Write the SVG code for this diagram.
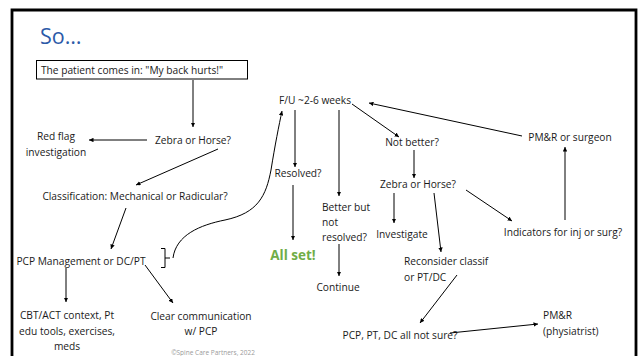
<svg xmlns="http://www.w3.org/2000/svg" width="642" height="356" viewBox="0 0 642 356">
  <defs>
    <marker id="ah" viewBox="0 0 6 6" refX="6" refY="3" markerWidth="4.5" markerHeight="4.5" orient="auto" markerUnits="userSpaceOnUse">
      <path d="M0,0 L6,3 L0,6 z" fill="#000"/>
    </marker>
    <style>
      .t{font-family:"Open Sans","Liberation Sans",sans-serif;font-size:10.2px;fill:#1a1a1a}
      .c{text-anchor:middle}
      .ln{stroke:#000;stroke-width:1;fill:none}
      .a{marker-end:url(#ah)}
    </style>
  </defs>

  <rect width="642" height="356" fill="#fff"/>
  <!-- slide frame -->
  <path d="M12,358 V10 H636 V358" fill="none" stroke="#000" stroke-width="2.8"/>

  <text x="40" y="44" font-family="Open Sans, Liberation Sans, sans-serif" font-size="21.5" fill="#2C5AA8">So…</text>

  <!-- nodes -->
  <g id="start">
    <rect x="36.5" y="60.5" width="211" height="18.5" fill="#fff" stroke="#000" stroke-width="1"/>
    <text class="t" x="41" y="73.5">The patient comes in: "My back hurts!"</text>
  </g>
  <g id="zebra1"><text class="t c" x="193" y="144">Zebra or Horse?</text></g>
  <g id="redflag">
    <text class="t c" x="56" y="139.5">Red flag</text>
    <text class="t c" x="56" y="155.5">investigation</text>
  </g>
  <g id="classification"><text class="t c" x="135" y="199.5">Classification: Mechanical or Radicular?</text></g>
  <g id="pcp"><text class="t c" x="81" y="264.5">PCP Management or DC/PT</text></g>
  <g id="cbt">
    <text class="t c" x="67" y="319">CBT/ACT context, Pt</text>
    <text class="t c" x="67" y="334.5">edu tools, exercises,</text>
    <text class="t c" x="67" y="350">meds</text>
  </g>
  <g id="clear">
    <text class="t c" x="201" y="319.5">Clear communication</text>
    <text class="t c" x="201" y="335">w/ PCP</text>
  </g>
  <g id="followup"><text class="t c" x="315" y="104">F/U ~2-6 weeks</text></g>
  <g id="resolved"><text class="t c" x="298" y="177">Resolved?</text></g>
  <g id="allset"><text x="293" y="260" text-anchor="middle" font-family="Open Sans, Liberation Sans, sans-serif" font-size="13.5" font-weight="bold" fill="#70AD47">All set!</text></g>
  <g id="better">
    <text class="t" x="322" y="210.5">Better but</text>
    <text class="t" x="322" y="226">not</text>
    <text class="t" x="322" y="241">resolved?</text>
  </g>
  <g id="continue"><text class="t c" x="338" y="291">Continue</text></g>
  <g id="notbetter"><text class="t c" x="412" y="146">Not better?</text></g>
  <g id="pmrsurgeon"><text class="t c" x="570" y="141">PM&amp;R or surgeon</text></g>
  <g id="zebra2"><text class="t c" x="418" y="188">Zebra or Horse?</text></g>
  <g id="investigate"><text class="t c" x="402" y="237.5">Investigate</text></g>
  <g id="reconsider">
    <text class="t" x="404" y="264.5">Reconsider classif</text>
    <text class="t" x="404" y="280.5">or PT/DC</text>
  </g>
  <g id="indicators"><text class="t c" x="563" y="235.5">Indicators for inj or surg?</text></g>
  <g id="notsure"><text class="t c" x="400" y="338.5">PCP, PT, DC all not sure?</text></g>
  <g id="pmr">
    <text class="t" x="543" y="319">PM&amp;R</text>
    <text class="t" x="543" y="335">(physiatrist)</text>
  </g>
  <text x="213" y="355" text-anchor="middle" font-family="Open Sans, Liberation Sans, sans-serif" font-size="6.5" fill="#9a9a9a">©Spine Care Partners, 2022</text>

  <!-- connectors -->
  <g id="connectors" class="ln">
    <path class="a" d="M193,80 V127"/>
    <path class="a" d="M147,140 H89"/>
    <path class="a" d="M218,149 L136,185"/>
    <path class="a" d="M126,208 L111,249"/>
    <path class="a" d="M66,268 V302"/>
    <path class="a" d="M145,265 L173,303"/>
    <path d="M161,248.5 H165 V267.5 H161 M165,258 H170"/>
    <path class="a" d="M173,258 C176,235 200,225 225,220 C258,213 266,196 271,170 C275,145 279,125 282,111"/>
    <path class="a" d="M295,110 V167"/>
    <path class="a" d="M293,185 V240"/>
    <path class="a" d="M339,110 V196"/>
    <path class="a" d="M339,244 V276"/>
    <path class="a" d="M352,104 L399,137"/>
    <path class="a" d="M522,136 L369,103"/>
    <path class="a" d="M414,150 V178"/>
    <path class="a" d="M394,193 V223"/>
    <path class="a" d="M434,193 L441,252"/>
    <path class="a" d="M466,190 L512,221"/>
    <path class="a" d="M565,220 V147"/>
    <path class="a" d="M457,275 L420,323"/>
    <path class="a" d="M450,333 L538,324"/>
  </g>
</svg>
